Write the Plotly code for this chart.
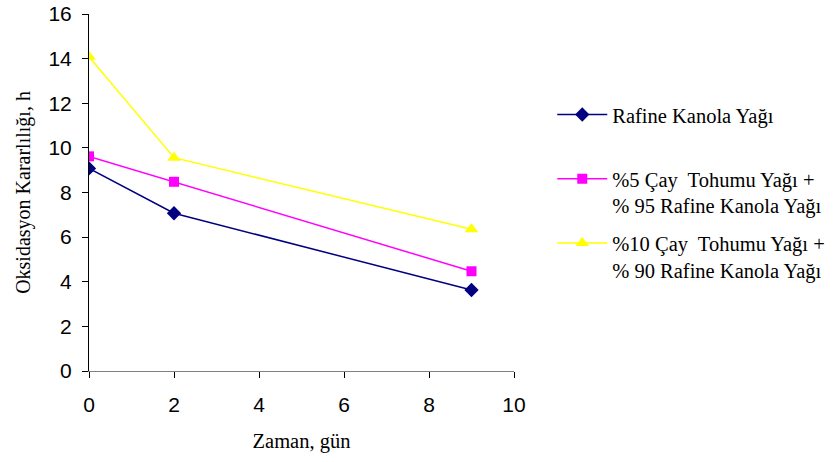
import plotly.graph_objects as go

# Storage time (days)
days = [0, 2, 9]

# Oxidative stability (h) for each oil blend
refined_canola = [9.08, 7.07, 3.63]
tea_seed_5 = [9.62, 8.48, 4.47]
tea_seed_10 = [14.08, 9.56, 6.35]

series_names = [
    "Rafine Kanola Yağı<br> ",
    "%5 Çay  Tohumu Yağı +<br>% 95 Rafine Kanola Yağı",
    "%10 Çay  Tohumu Yağı +<br>% 90 Rafine Kanola Yağı",
]

x_ticks = [0, 2, 4, 6, 8, 10]
y_ticks = [0, 2, 4, 6, 8, 10, 12, 14, 16]

fig = go.Figure()
styles = [
    (refined_canola, "#000080", "diamond", 11),
    (tea_seed_5, "#FF00FF", "square", 10),
    (tea_seed_10, "#FFFF00", "triangle-up", 12),
]
for i, ((vals, color, sym, size), name) in enumerate(zip(styles, series_names)):
    fig.add_trace(go.Scatter(
        x=days, y=vals, name=name, mode="lines+markers", legendgroup=f"g{i}",
        line=dict(color=color, width=1.5),
        marker=dict(symbol=sym, size=size, color=color),
    ))

serif = "'Times New Roman', 'Liberation Serif', Times, serif"
sans = "Arial, 'Liberation Sans', Helvetica, sans-serif"

fig.update_layout(
    width=836, height=462,
    margin=dict(l=89, r=322, t=14, b=91, autoexpand=False),
    paper_bgcolor="white", plot_bgcolor="white",
    showlegend=True,
    legend=dict(
        x=1.09, y=0.774, xanchor="left", yanchor="top", valign="top",
        font=dict(family=serif, size=20.5, color="black"),
        tracegroupgap=8, itemwidth=50,
        bgcolor="rgba(0,0,0,0)",
    ),
    xaxis=dict(
        range=[0, 10], tickvals=x_ticks, showgrid=False, zeroline=False,
        showline=True, linecolor="#808080", linewidth=1,
        ticks="outside", ticklen=6, tickcolor="black",
        ticklabelstandoff=9, automargin=False,
        tickfont=dict(family=sans, size=21, color="black"),
        title=dict(text="Zaman, gün", font=dict(family=serif, size=20.5, color="black"), standoff=18),
    ),
    yaxis=dict(
        range=[0, 16], tickvals=y_ticks, showgrid=False, zeroline=False,
        showline=True, linecolor="black", linewidth=1,
        ticks="outside", ticklen=6, tickcolor="black",
        ticklabelstandoff=6, automargin=False,
        tickfont=dict(family=sans, size=21, color="black"),
        title=dict(text="Oksidasyon Kararlılığı, h", font=dict(family=serif, size=20, color="black"), standoff=12),
    ),
)

fig.write_html("out.html")
